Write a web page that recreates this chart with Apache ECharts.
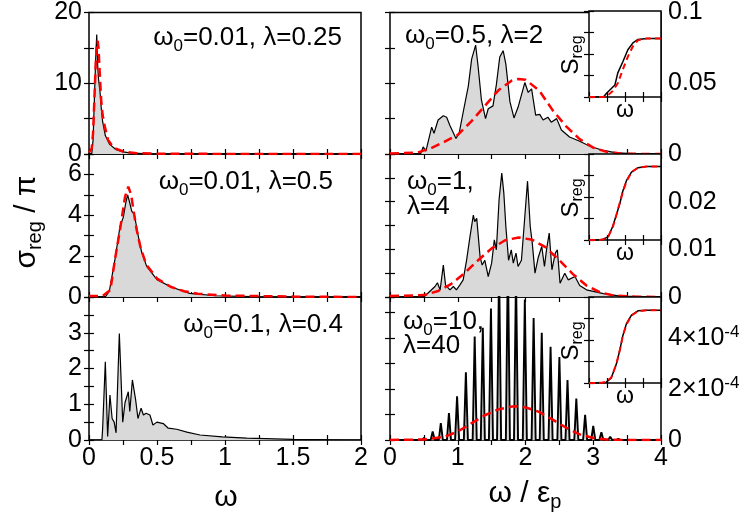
<!DOCTYPE html>
<html>
<head>
<meta charset="utf-8">
<script src="https://cdn.jsdelivr.net/npm/echarts@6/dist/echarts.min.js"></script>
<style>
  html, body { margin: 0; padding: 0; background: #fff; }
  #chart { width: 747px; height: 520px; }
</style>
</head>
<body>
<div id="chart"></div>
<script>
// ---- data ----
// left column, x = omega (0..2)
var tlBlack = [[0,0],[0.02,0],[0.03,2],[0.04,8],[0.05,14],[0.057,16.9],[0.064,12.5],[0.07,10.6],[0.08,9],[0.09,6.5],[0.1,4.6],[0.12,2.6],[0.15,1.4],[0.2,0.6],[0.25,0.3],[0.3,0.15],[0.4,0.06],[0.6,0.02],[1,0.005],[2,0]];
var tlRed = [[0,0.2],[0.02,0.8],[0.03,3],[0.04,8],[0.05,13],[0.058,15.6],[0.064,16],[0.07,15],[0.08,11],[0.09,7.5],[0.1,5.5],[0.117,3.8],[0.14,2],[0.18,0.9],[0.25,0.35],[0.35,0.12],[0.5,0.04],[1,0.01],[2,0]];

var mlBlack = [[0,0],[0.12,0],[0.15,0.3],[0.19,1.8],[0.228,3.45],[0.252,3.9],[0.27,4.6],[0.284,5.0],[0.3,4.6],[0.314,4.2],[0.333,4.05],[0.363,2.95],[0.387,2.2],[0.424,1.5],[0.5,0.85],[0.6,0.5],[0.74,0.18],[0.93,0.06],[1.2,0.02],[2,0]];
var mlRed = [[0,0.05],[0.1,0.05],[0.157,0.34],[0.19,1.8],[0.228,3.3],[0.265,4.9],[0.289,5.4],[0.31,5.0],[0.326,4.3],[0.35,3.3],[0.38,2.4],[0.42,1.6],[0.5,0.9],[0.6,0.5],[0.7,0.28],[0.8,0.16],[1,0.07],[1.5,0.02],[2,0]];

var blBlack = [[0,0],[0.095,0],[0.1,0.3],[0.12,2.19],[0.137,0.1],[0.154,1.26],[0.17,0.6],[0.185,0.5],[0.199,0.2],[0.223,2.98],[0.248,0.5],[0.265,1.05],[0.289,1.35],[0.3,0.8],[0.319,1.68],[0.343,1.12],[0.36,0.6],[0.383,0.89],[0.4,0.7],[0.42,0.75],[0.448,0.7],[0.47,0.42],[0.5,0.5],[0.546,0.46],[0.583,0.33],[0.645,0.3],[0.72,0.22],[0.816,0.14],[0.98,0.09],[1.16,0.05],[1.5,0.02],[2,0]];

// right column, x = omega / eps_p (0..4)
var trBlack = [[0,0],[0.45,0],[0.49,0.005],[0.53,0.002],[0.615,0.019],[0.65,0.0147],[0.71,0.024],[0.787,0.027],[0.836,0.026],[0.886,0.02],[0.974,0.011],[1.02,0.0145],[1.08,0.0295],[1.156,0.048],[1.205,0.067],[1.264,0.077],[1.3,0.062],[1.35,0.038],[1.41,0.025],[1.45,0.032],[1.52,0.034],[1.57,0.049],[1.62,0.0685],[1.67,0.073],[1.71,0.0635],[1.77,0.037],[1.83,0.0255],[1.89,0.033],[1.99,0.0505],[2.04,0.0435],[2.09,0.046],[2.15,0.0275],[2.21,0.028],[2.26,0.024],[2.33,0.026],[2.38,0.0225],[2.46,0.025],[2.53,0.017],[2.65,0.012],[2.8,0.009],[2.95,0.0055],[3.15,0.0025],[3.34,0.0008],[3.6,0.0002],[4,0]];
var trRed = [[0,0.0003],[0.4,0.001],[0.6,0.004],[0.8,0.0085],[1.0,0.0135],[1.2,0.023],[1.4,0.034],[1.6,0.045],[1.8,0.052],[1.9,0.053],[2.0,0.0525],[2.2,0.045],[2.4,0.031],[2.6,0.0195],[2.8,0.0105],[3.0,0.0045],[3.2,0.0015],[3.4,0.0004],[3.6,0.0001],[4,0]];

var mrBlack = [[0,0],[0.5,0],[0.52,0.0002],[0.664,0.0022],[0.7,0.003],[0.74,0.0015],[0.787,0.0067],[0.82,0.0025],[0.885,0.0015],[0.935,0.0022],[0.98,0.0015],[1.03,0.0025],[1.08,0.0036],[1.13,0.0077],[1.18,0.0126],[1.23,0.0172],[1.25,0.0158],[1.28,0.0165],[1.33,0.0084],[1.36,0.0067],[1.4,0.0077],[1.45,0.0043],[1.5,0.0071],[1.54,0.012],[1.57,0.0099],[1.61,0.0204],[1.65,0.026],[1.68,0.0218],[1.71,0.0148],[1.75,0.0077],[1.79,0.0099],[1.82,0.0071],[1.86,0.0092],[1.89,0.0064],[1.94,0.0077],[1.99,0.0169],[2.03,0.0243],[2.07,0.0148],[2.1,0.0113],[2.14,0.005],[2.19,0.0084],[2.24,0.0106],[2.28,0.0064],[2.31,0.0099],[2.35,0.0134],[2.39,0.0057],[2.44,0.0092],[2.47,0.0099],[2.51,0.0029],[2.58,0.005],[2.63,0.0036],[2.73,0.0043],[2.8,0.0024],[2.9,0.0015],[3.15,0.0007],[3.4,0.0002],[4,0]];
var mrRed = [[0,0.0002],[0.5,0.0004],[0.7,0.0012],[0.9,0.0027],[1.1,0.005],[1.3,0.0077],[1.5,0.0102],[1.7,0.0119],[1.9,0.0125],[2.1,0.012],[2.3,0.0104],[2.5,0.0077],[2.7,0.0048],[2.9,0.0024],[3.1,0.001],[3.3,0.0003],[3.6,0.0001],[4,0]];

// bottom right: comb of sharp peaks, heights in units of 1e-4
var brPeakPos = [0.50,0.63,0.75,0.87,0.99,1.12,1.25,1.37,1.49,1.61,1.74,1.86,1.99,2.12,2.24,2.37,2.50,2.62,2.75,2.88,3.00,3.12,3.25,3.37];
var brPeakHeight = [0.08,0.33,0.66,1.05,1.71,2.65,4.05,4.4,5.15,6.8,7.2,6.5,5.5,4.78,4.2,3.65,3.25,2.35,1.62,0.99,0.55,0.3,0.13,0.05];
var brRed = [[0,0],[0.5,0.02],[0.8,0.12],[1.0,0.33],[1.2,0.65],[1.4,0.97],[1.6,1.2],[1.8,1.31],[1.86,1.32],[2.0,1.28],[2.2,1.1],[2.4,0.8],[2.6,0.48],[2.8,0.22],[3.0,0.08],[3.2,0.02],[3.5,0],[4,0]];

// insets: S_reg vs omega (normalised axes)
var in1Black = [[0,0],[0.2,0],[0.25,0.05],[0.3,0.09],[0.36,0.14],[0.4,0.28],[0.47,0.41],[0.54,0.55],[0.61,0.63],[0.68,0.67],[0.8,0.68],[1,0.68]];
var in1Red = [[0,0],[0.2,0],[0.25,0.01],[0.33,0.07],[0.4,0.16],[0.47,0.32],[0.54,0.47],[0.61,0.59],[0.68,0.66],[0.8,0.68],[1,0.68]];
var in2Black = [[0,0],[0.15,0],[0.2,0.01],[0.27,0.04],[0.33,0.16],[0.38,0.29],[0.43,0.43],[0.47,0.57],[0.52,0.69],[0.59,0.79],[0.68,0.84],[0.8,0.855],[1,0.855]];
var in2Red = [[0,0],[0.15,0],[0.2,0.01],[0.27,0.045],[0.33,0.15],[0.38,0.29],[0.43,0.44],[0.47,0.56],[0.52,0.68],[0.59,0.79],[0.68,0.84],[0.8,0.855],[1,0.855]];
var in3Black = [[0,0],[0.18,0],[0.24,0.01],[0.31,0.06],[0.38,0.22],[0.43,0.39],[0.47,0.55],[0.52,0.69],[0.59,0.79],[0.68,0.84],[0.8,0.845],[1,0.845]];
var in3Red = [[0,0],[0.18,0.002],[0.24,0.015],[0.31,0.065],[0.38,0.22],[0.43,0.39],[0.47,0.55],[0.52,0.68],[0.59,0.785],[0.68,0.835],[0.8,0.845],[1,0.845]];

// comb outline built from the peak tables
var brBlack = [[0,0]];
brPeakPos.forEach(function (c, i) {
  brBlack.push([c - 0.03, 0], [c, brPeakHeight[i]], [c + 0.03, 0]);
});
brBlack.push([4, 0]);

var FONT = '"Liberation Sans", Arial, sans-serif';
var TICK_FS = 25, NOTE_FS = 26;
var chart = echarts.init(document.getElementById('chart'));

var grids = [], xAxes = [], yAxes = [], series = [];

function onStep(v, step) {
  return Math.abs(v / step - Math.round(v / step)) < 1e-6;
}

function tickAxis(extra) {
  var a = {
    type: 'value',
    axisLine: { show: false },
    splitLine: { show: false },
    axisTick: { show: true, inside: true, length: 5, lineStyle: { color: '#000', width: 1.2 } },
    axisLabel: { show: false }
  };
  for (var k in extra) a[k] = extra[k];
  return a;
}

// p: {left, top, w, h, xMax, xInt, xLab, yMax, yInt, yLab, ySide}
function addPanel(p) {
  var g = grids.length;
  grids.push({ left: p.left, top: p.top, width: p.w, height: p.h, show: true,
    borderColor: '#000', borderWidth: 1.5, backgroundColor: p.bg || 'transparent', z: p.z || 0 });
  var xl = { show: !!p.xLab, formatter: p.xLab, fontSize: TICK_FS, color: '#000', fontFamily: FONT, margin: 6 };
  xAxes.push(tickAxis({ gridIndex: g, min: 0, max: p.xMax, interval: p.xInt, position: 'bottom', axisLabel: xl, z: p.z || 0 }));
  xAxes.push(tickAxis({ gridIndex: g, min: 0, max: p.xMax, interval: p.xInt, position: 'top', z: p.z || 0 }));
  var yl = { show: !!p.yLab, formatter: p.yLab, fontSize: TICK_FS, color: '#000', fontFamily: FONT, margin: 7,
    rich: { sup: { fontSize: 17, fontFamily: FONT, color: '#000', verticalAlign: 'top', padding: [0, 0, 12, 0] } } };
  var labSide = p.ySide || 'left';
  yAxes.push(tickAxis({ gridIndex: g, min: 0, max: p.yMax, interval: p.yInt, position: labSide, axisLabel: yl, z: p.z || 0 }));
  yAxes.push(tickAxis({ gridIndex: g, min: 0, max: p.yMax, interval: p.yInt, position: labSide === 'left' ? 'right' : 'left', z: p.z || 0 }));
  return 2 * g;
}

function addCurves(ax, black, red, z, thin, bw) {
  z = z || 2;
  if (black) series.push({ type: 'line', xAxisIndex: ax, yAxisIndex: ax, data: black, symbol: 'none',
    lineStyle: { color: '#000', width: bw || (thin ? 1.5 : 1.2) }, areaStyle: thin ? undefined : { color: '#d9d9d9', opacity: 1 },
    z: z, animation: false });
  if (red) series.push({ type: 'line', xAxisIndex: ax, yAxisIndex: ax, data: red, symbol: 'none',
    lineStyle: { color: '#ff0000', width: thin ? 2 : 2.5, type: thin ? [6, 4] : [9, 5] },
    z: z + 1, animation: false });
}

var LX = 89, RX = 390, PW = 272, PH = 143, ROWS = [11, 154, 297];
var xLeftLab = function (v) { return onStep(v, 0.5) ? String(v) : ''; };
var xRightLab = function (v) { return onStep(v, 1) ? String(v) : ''; };

var a;
a = addPanel({ left: LX, top: ROWS[0], w: PW, h: PH, xMax: 2, xInt: 0.25, xLab: null, yMax: 20, yInt: 5,
  yLab: function (v) { return onStep(v, 10) ? String(v) : ''; } });
addCurves(a, tlBlack, tlRed);
a = addPanel({ left: LX, top: ROWS[1], w: PW, h: PH, xMax: 2, xInt: 0.25, xLab: null, yMax: 7, yInt: 1,
  yLab: function (v) { return (onStep(v, 2) && v < 7) ? String(v) : ''; } });
addCurves(a, mlBlack, mlRed);
a = addPanel({ left: LX, top: ROWS[2], w: PW, h: PH, xMax: 2, xInt: 0.25, xLab: xLeftLab, yMax: 4, yInt: 0.5,
  yLab: function (v) { return (onStep(v, 1) && v < 4) ? String(v) : ''; } });
addCurves(a, blBlack, null);

a = addPanel({ left: RX, top: ROWS[0], w: PW - 1, h: PH, xMax: 4, xInt: 0.5, xLab: null, yMax: 0.1, yInt: 0.025, ySide: 'right',
  yLab: function (v) { return onStep(v, 0.05) ? String(+v.toFixed(3)) : ''; } });
addCurves(a, trBlack, trRed);
a = addPanel({ left: RX, top: ROWS[1], w: PW - 1, h: PH, xMax: 4, xInt: 0.5, xLab: null, yMax: 0.03, yInt: 0.005, ySide: 'right',
  yLab: function (v) { return (onStep(v, 0.01) && v < 0.029) ? String(+v.toFixed(3)) : ''; } });
addCurves(a, mrBlack, mrRed);
a = addPanel({ left: RX, top: ROWS[2], w: PW - 1, h: PH, xMax: 4, xInt: 0.5, xLab: xRightLab, yMax: 5.6, yInt: 1, ySide: 'right',
  yLab: function (v) {
    if (v === 0) return '0';
    return (onStep(v, 2) && v < 5) ? Math.round(v) + '×10{sup|-4}' : '';
  } });
addCurves(a, brBlack, brRed, 2, false, 1.9);

// insets
var insetData = [[in1Black, in1Red], [in2Black, in2Red], [in3Black, in3Red]];
var IX = 589, IW = 72, IH = 86;
insetData.forEach(function (d, i) {
  var ia = addPanel({ left: IX, top: ROWS[i], w: IW, h: IH, xMax: 1, xInt: 0.25, xLab: null, yMax: 1, yInt: 0.25,
    yLab: null, bg: '#fff', z: 10 });
  addCurves(ia, d[0], d[1], 11, true);
});

// text
var subRich = { sub: { fontSize: 17, fontFamily: FONT, fill: '#000', verticalAlign: 'bottom', padding: [16, 0, 0, 0] } };
function note(x, y, text, align) {
  return { type: 'text', x: x, y: y, z: 20, style: { text: text, fontSize: NOTE_FS, fontFamily: FONT, fill: '#000',
    align: align || 'left', verticalAlign: 'middle', rich: subRich } };
}
var graphics = [
  note(342, 38, 'ω{sub|0}=0.01, λ=0.25', 'right'),
  note(333, 182, 'ω{sub|0}=0.01, λ=0.5', 'right'),
  note(343, 325, 'ω{sub|0}=0.1, λ=0.4', 'right'),
  note(405, 36, 'ω{sub|0}=0.5, λ=2'),
  note(407, 182, 'ω{sub|0}=1,'),
  note(407, 207, 'λ=4'),
  note(403, 322, 'ω{sub|0}=10,'),
  note(403, 346, 'λ=40'),
  { type: 'text', x: 226, y: 498, z: 20, style: { text: 'ω', fontSize: 30, fontFamily: FONT, fill: '#000', align: 'center', verticalAlign: 'middle' } },
  { type: 'text', x: 525, y: 494, z: 20, style: { text: 'ω / ε{sub|p}', fontSize: 30, fontFamily: FONT, fill: '#000', align: 'center', verticalAlign: 'middle',
    rich: { sub: { fontSize: 20, fontFamily: FONT, fill: '#000', verticalAlign: 'bottom', padding: [16, 0, 0, 0] } } } },
  { type: 'text', x: 27, y: 222, rotation: Math.PI / 2, z: 20, style: { text: 'σ{sub|reg} / π', fontSize: 30, fontFamily: FONT, fill: '#000',
    align: 'center', verticalAlign: 'middle',
    rich: { sub: { fontSize: 20, fontFamily: FONT, fill: '#000', verticalAlign: 'bottom', padding: [16, 0, 0, 0] } } } }
];
ROWS.forEach(function (t) {
  graphics.push({ type: 'text', x: IX + IW / 2, y: t + IH + 14, z: 20, style: { text: 'ω', fontSize: 23, fontFamily: FONT, fill: '#000', align: 'center', verticalAlign: 'middle' } });
  graphics.push({ type: 'text', x: 571, y: t + 44, rotation: Math.PI / 2, z: 20, style: { text: 'S{sub|reg}', fontSize: 24, fontFamily: FONT, fill: '#000',
    align: 'center', verticalAlign: 'middle',
    rich: { sub: { fontSize: 16, fontFamily: FONT, fill: '#000', verticalAlign: 'bottom', padding: [13, 0, 0, 0] } } } });
});

chart.setOption({
  animation: false,
  backgroundColor: '#fff',
  grid: grids,
  xAxis: xAxes,
  yAxis: yAxes,
  series: series,
  graphic: graphics
});
</script>
</body>
</html>
